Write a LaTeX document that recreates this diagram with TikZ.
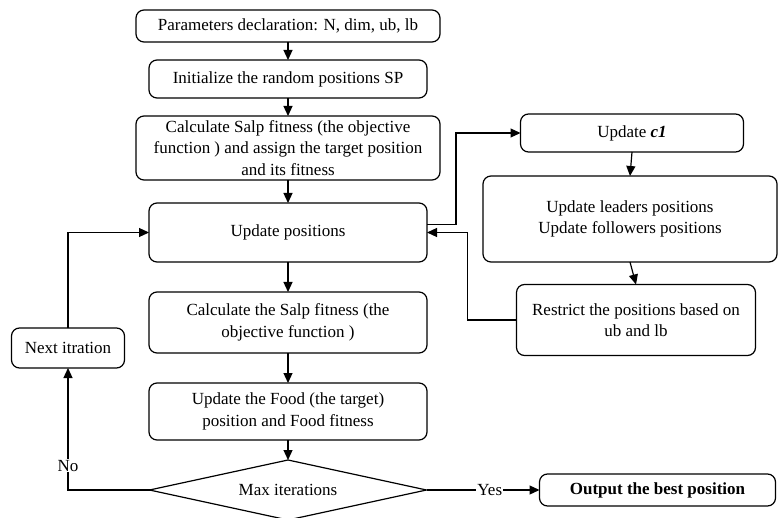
\documentclass[tikz,border=0pt]{standalone}
\usepackage{fontspec}
\setmainfont{Liberation Serif}
\usetikzlibrary{shapes.geometric,arrows.meta,positioning,calc}

\begin{document}
\begin{tikzpicture}[
    x=1pt, y=1pt,
    node distance=18pt,
    every node/.style={font=\fontsize{17}{21.5}\selectfont},
    box/.style={rectangle, draw, rounded corners=8pt, line width=1.2pt, inner xsep=3pt, inner ysep=1pt, outer sep=0pt, minimum width=278pt, align=center},
    decision/.style={diamond, draw, line width=1.2pt, aspect=4.62, minimum width=277pt, minimum height=60pt, inner sep=0pt, outer sep=0pt},
    arrow/.style={-{Triangle[length=10pt, width=9pt]}, line width=1.2pt}
    ]
    \useasboundingbox (0,0) rectangle (778,-518);
    % main column
    \node[box, minimum width=304pt, minimum height=32pt] (param) at (288,-26) {Parameters declaration: N, dim, ub, lb};
    \node[box, minimum height=38pt, below=of param] (init) {Initialize the random positions SP};
    \node[box, minimum width=304pt, minimum height=64pt, below=of init] (calc) {Calculate Salp fitness (the objective\\ function ) and assign the target position\\ and its fitness};
    \node[box, minimum height=59pt, below=23pt of calc] (upd) {Update positions};
    \node[box, minimum height=61pt, below=30pt of upd] (fit) {Calculate the Salp fitness (the\\ objective function )};
    \node[box, minimum height=57pt, below=30pt of fit] (food) {Update the Food (the target)\\ position and Food fitness};
    \node[decision, below=20pt of food] (maxit) {Max iterations};
    \node[box, minimum width=236pt, minimum height=32pt, right=113pt of maxit] (out) {\textbf{Output the best position}};
    \node[box, minimum width=113pt, minimum height=40pt] (next) at (68,-348) {Next itration};
    % right column
    \node[box, minimum width=223pt, minimum height=38pt] (c1) at (632,-133) {Update \textbf{\textit{c1}}};
    \node[box, minimum width=294pt, minimum height=86pt] (lead) at (630,-219) {Update leaders positions\\ Update followers positions};
    \node[box, minimum width=239pt, minimum height=71pt] (rest) at (636,-320) {Restrict the positions based on\\ ub and lb};
    % connectors
    \draw[arrow] (param) -- (init);
    \draw[arrow] (init) -- (calc);
    \draw[arrow] (calc) -- (upd);
    \draw[arrow] (upd) -- (fit);
    \draw[arrow] (fit) -- (food);
    \draw[arrow] (food) -- (maxit);
    \draw[arrow] (maxit.east) -- node[pos=0.56, fill=white, inner sep=1pt] {Yes} (out.west);
    \draw[arrow] (maxit.west) -| node[pos=0.6, fill=white, inner sep=1pt] {No} (next.south);
    \draw[arrow] (next.north) |- (upd.west);
    \draw[arrow] ($(upd.east)+(0,8)$) -- ++(29,0) |- (c1.west);
    \draw[arrow] (c1.south) -- (lead.north);
    \draw[arrow] (lead.south) -- (rest.north);
    \draw[arrow] (rest.west) -- ++(-49,0) |- (upd.east);
\end{tikzpicture}
\end{document}
